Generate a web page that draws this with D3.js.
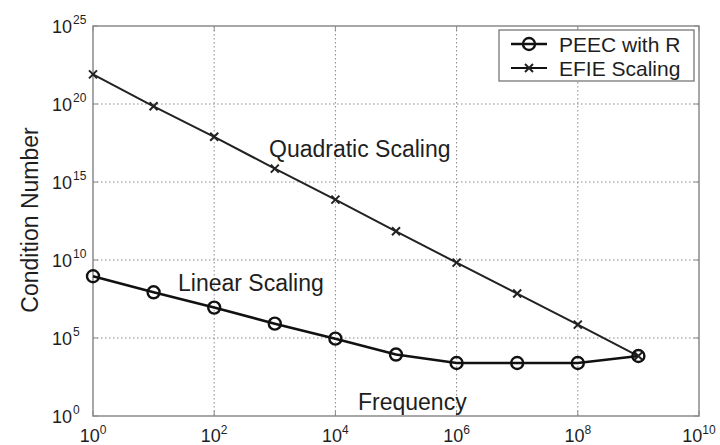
<!DOCTYPE html>
<meta charset="utf-8">
<style>
body { margin: 0; background: #fff; }
text { font-family: "Liberation Sans", Arial, sans-serif; fill: #1e1e1e; }
.grid line { stroke: #8a8a8a; stroke-dasharray: 1.5,2.5; stroke-width: 1; }
</style>
<body>
<script src="https://d3js.org/d3.v7.min.js"></script>
<script>

// frequencies (Hz) and condition numbers
var freq = [1e0, 1e1, 1e2, 1e3, 1e4, 1e5, 1e6, 1e7, 1e8, 1e9];
var peec = [9.1e8, 8.5e7, 8.9e6, 8.3e5, 9.1e4, 8.7e3, 2.5e3, 2.5e3, 2.5e3, 7.0e3];
var efie = [7.9e21, 7.1e19, 7.9e17, 7.2e15, 7.4e13, 6.9e11, 6.8e9, 7.1e7, 7.2e5, 7.0e3];

var xTickExp = [0, 2, 4, 6, 8, 10];
var yTickExp = [0, 5, 10, 15, 20, 25];
var legendNames = ["PEEC with R", "EFIE Scaling"];

var margin = {top: 26, right: 21, bottom: 29, left: 93},
    width = 720 - margin.left - margin.right,
    height = 445 - margin.top - margin.bottom;

var x = d3.scaleLog().domain([1, 1e10]).range([0, width]);
var y = d3.scaleLog().domain([1, 1e25]).range([height, 0]);

var svg = d3.select("body").append("svg")
    .attr("width", 720)
    .attr("height", 445)
  .append("g")
    .attr("transform", "translate(" + margin.left + "," + margin.top + ")");

// dotted grid
var grid = svg.append("g").attr("class", "grid");
grid.selectAll(".vx")
    .data(xTickExp.slice(1, -1))
  .enter().append("line")
    .attr("x1", function(e) { return x(Math.pow(10, e)); })
    .attr("x2", function(e) { return x(Math.pow(10, e)); })
    .attr("y1", 0).attr("y2", height);
grid.selectAll(".hy")
    .data(yTickExp.slice(1, -1))
  .enter().append("line")
    .attr("y1", function(e) { return y(Math.pow(10, e)); })
    .attr("y2", function(e) { return y(Math.pow(10, e)); })
    .attr("x1", 0).attr("x2", width);

// frame
svg.append("rect")
    .attr("width", width).attr("height", height)
    .attr("fill", "none").attr("stroke", "#8a8a8a").attr("stroke-width", 1.5);

// small inward ticks on all sides
xTickExp.forEach(function(e) {
  var px = x(Math.pow(10, e));
  svg.append("line").attr("x1", px).attr("x2", px).attr("y1", height).attr("y2", height - 5).attr("stroke", "#8a8a8a");
  svg.append("line").attr("x1", px).attr("x2", px).attr("y1", 0).attr("y2", 5).attr("stroke", "#8a8a8a");
});
yTickExp.forEach(function(e) {
  var py = y(Math.pow(10, e));
  svg.append("line").attr("y1", py).attr("y2", py).attr("x1", 0).attr("x2", 5).attr("stroke", "#8a8a8a");
  svg.append("line").attr("y1", py).attr("y2", py).attr("x1", width).attr("x2", width - 5).attr("stroke", "#8a8a8a");
});

// tick labels: 10 with superscript exponent
var xl = svg.selectAll(".xl")
    .data(xTickExp)
  .enter().append("text")
    .attr("x", function(e) { return x(Math.pow(10, e)); })
    .attr("y", height + 26)
    .attr("text-anchor", "middle")
    .style("font-size", "18px");
xl.append("tspan").text("10");
xl.append("tspan").attr("dy", -8).style("font-size", "12px").text(function(e) { return e; });

var yl = svg.selectAll(".yl")
    .data(yTickExp)
  .enter().append("text")
    .attr("x", -21)
    .attr("y", function(e) { return y(Math.pow(10, e)) + 7; })
    .attr("text-anchor", "end")
    .style("font-size", "18px")
    .text("10");
svg.selectAll(".ye")
    .data(yTickExp)
  .enter().append("text")
    .attr("x", -20)
    .attr("y", function(e) { return y(Math.pow(10, e)) - 2; })
    .style("font-size", "12px")
    .text(function(e) { return e; });

// lines
var line = function(vals) {
  return d3.line()
    .x(function(d, i) { return x(freq[i]); })
    .y(function(d) { return y(d); })(vals);
};

svg.append("path")
    .attr("d", line(efie))
    .attr("fill", "none").attr("stroke", "#222").attr("stroke-width", 2);
svg.append("path")
    .attr("d", line(peec))
    .attr("fill", "none").attr("stroke", "#111").attr("stroke-width", 2.6);

function cross(g, cx, cy, s) {
  g.append("path")
    .attr("d", "M" + (cx - s) + "," + (cy - s) + "L" + (cx + s) + "," + (cy + s) +
               "M" + (cx - s) + "," + (cy + s) + "L" + (cx + s) + "," + (cy - s))
    .attr("stroke", "#222").attr("stroke-width", 2);
}

efie.forEach(function(d, i) { cross(svg, x(freq[i]), y(d), 4); });

svg.selectAll(".pt")
    .data(peec)
  .enter().append("circle")
    .attr("cx", function(d, i) { return x(freq[i]); })
    .attr("cy", function(d) { return y(d); })
    .attr("r", 6)
    .attr("fill", "none").attr("stroke", "#111").attr("stroke-width", 2.4);

// annotations
svg.append("text").attr("x", 269 - margin.left).attr("y", 157 - margin.top)
    .style("font-size", "23px").text("Quadratic Scaling");
svg.append("text").attr("x", 178 - margin.left).attr("y", 291 - margin.top)
    .style("font-size", "23px").text("Linear Scaling");
svg.append("text").attr("x", 358 - margin.left).attr("y", 410 - margin.top)
    .style("font-size", "23px").text("Frequency");

// y axis label
svg.append("text")
    .attr("transform", "rotate(-90)")
    .attr("x", -(220 - margin.top))
    .attr("y", 38 - margin.left)
    .attr("text-anchor", "middle")
    .style("font-size", "23px")
    .text("Condition Number");

// legend
var lg = svg.append("g").attr("transform", "translate(" + (499 - margin.left) + "," + (30 - margin.top) + ")");
lg.append("rect").attr("width", 195).attr("height", 51)
    .attr("fill", "#fff").attr("stroke", "#777").attr("stroke-width", 1.3);
legendNames.forEach(function(name, i) {
  var ly = 14 + i * 24;
  lg.append("line").attr("x1", 12).attr("x2", 48).attr("y1", ly).attr("y2", ly)
      .attr("stroke", "#111").attr("stroke-width", i === 0 ? 2.6 : 2);
  if (i === 0) {
    lg.append("circle").attr("cx", 30).attr("cy", ly).attr("r", 6)
        .attr("fill", "none").attr("stroke", "#111").attr("stroke-width", 2.4);
  } else {
    cross(lg, 30, ly, 4);
  }
  lg.append("text").attr("x", 60).attr("y", ly + 7.5)
      .style("font-size", "21px").text(name);
});

</script>
</body>
